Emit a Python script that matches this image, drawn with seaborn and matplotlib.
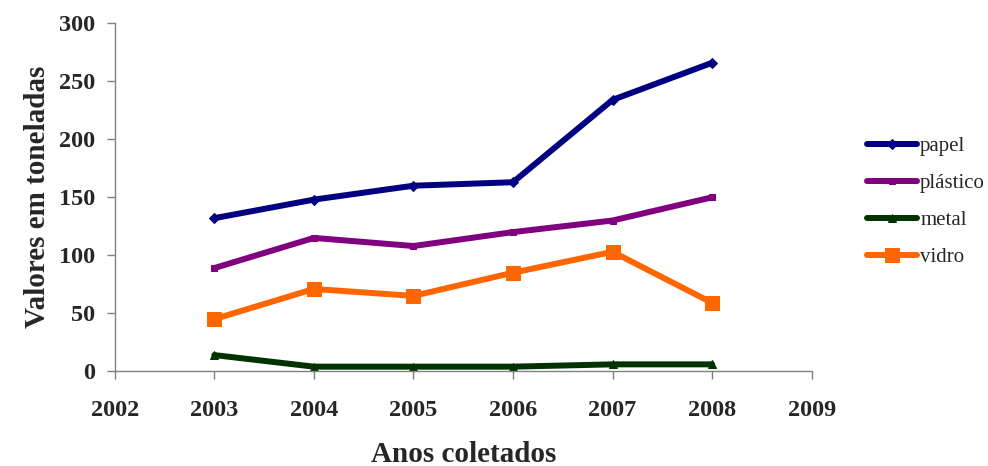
import matplotlib
matplotlib.use("Agg")
import matplotlib.pyplot as plt
import seaborn as sns
import pandas as pd

# Recycled material collected per year (tonnes)
anos = [2003, 2004, 2005, 2006, 2007, 2008]
papel = [132, 148, 160, 163, 234, 266]
plastico = [89, 115, 108, 120, 130, 150]
metal = [14, 4, 4, 4, 6, 6]
vidro = [45, 71, 65, 85, 103, 59]

materiais = ["papel", "plástico", "metal", "vidro"]
x_ticks = list(range(2002, 2010))
y_ticks = list(range(0, 301, 50))

sns.set_theme(style="white")
plt.rcParams["font.family"] = ["Liberation Serif", "DejaVu Serif"]

df = pd.DataFrame({
    "ano": anos * 4,
    "valor": papel + plastico + metal + vidro,
    "material": [m for m in materiais for _ in anos],
})

estilos = {
    "papel": dict(color="#000080", marker="D", markersize=5),
    "plástico": dict(color="#800080", marker="s", markersize=5),
    "metal": dict(color="#003300", marker="^", markersize=6),
    "vidro": dict(color="#FF6600", marker="s", markersize=10),
}

fig = plt.figure(figsize=(9.88, 4.66), dpi=100)
ax = fig.add_axes([0.1161, 0.2032, 0.8216 - 0.1161, 0.95 - 0.2032])

for m in materiais:
    st = estilos[m]
    sns.lineplot(
        data=df[df["material"] == m], x="ano", y="valor", ax=ax,
        color=st["color"], marker=st["marker"], markersize=st["markersize"],
        markeredgecolor=st["color"], linewidth=4.3, label=m, clip_on=False,
    )

ax.set_xlim(2002, 2009)
ax.set_ylim(0, 300)
ax.set_xticks(x_ticks)
ax.set_yticks(y_ticks)
ax.tick_params(axis="both", which="major", direction="out", length=6,
               width=1, color="#808080", labelsize=17.5, pad=8,
               bottom=True, left=True)
ax.tick_params(axis="x", pad=15)
for lbl in ax.get_xticklabels() + ax.get_yticklabels():
    lbl.set_fontweight("bold")

for side in ["top", "right"]:
    ax.spines[side].set_visible(False)
for side in ["left", "bottom"]:
    ax.spines[side].set_color("#808080")
    ax.spines[side].set_linewidth(1)

ax.set_xlabel("Anos coletados", fontsize=21, fontweight="bold", labelpad=14)
ax.set_ylabel("Valores em toneladas", fontsize=21, fontweight="bold", labelpad=6)

ax.legend(loc="upper left", bbox_to_anchor=(0.8775, 0.707),
          bbox_transform=fig.transFigure, frameon=False, fontsize=15,
          handlelength=2.4, handletextpad=0.15, labelspacing=0.84,
          borderpad=0, borderaxespad=0)

fig.savefig("out.png", dpi=100)
